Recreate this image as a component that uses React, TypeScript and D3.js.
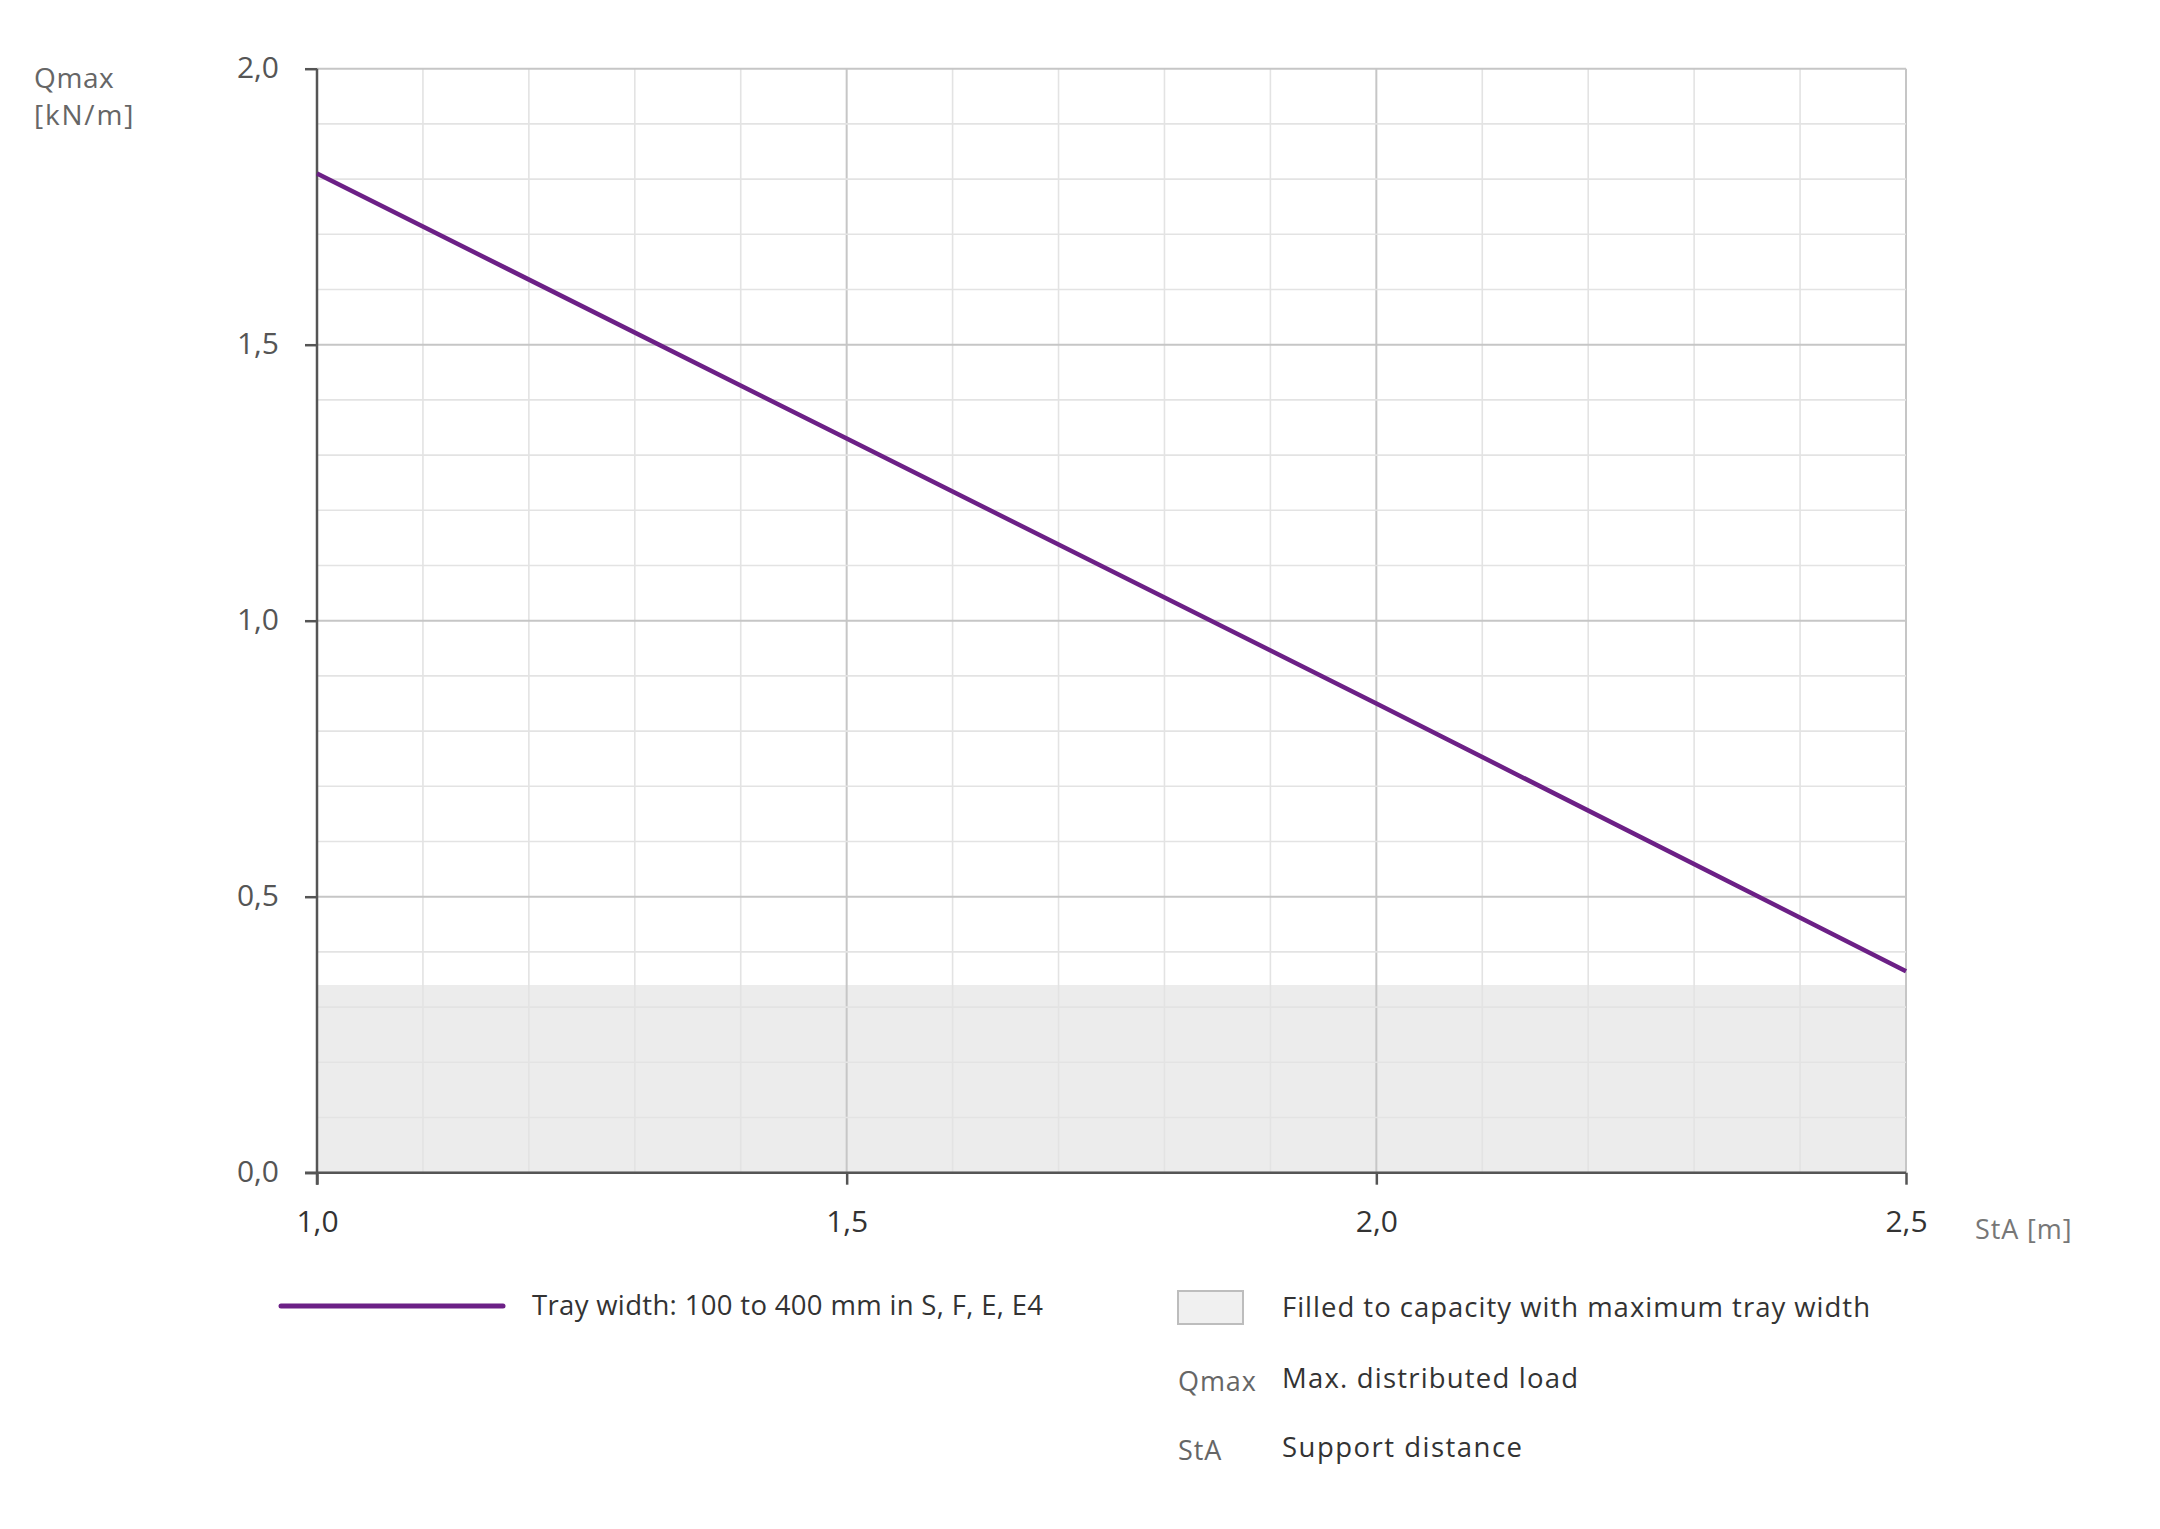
import { useRef, useEffect } from "react";
import * as d3 from "d3";

// Support distance StA [m] and max distributed load Qmax [kN/m]
const supportDistance = [1.0, 1.5, 2.0, 2.5];
const maxLoad = [1.81, 1.33, 0.85, 0.365];
const capacityLimit = 0.34;

const xTicks = [1.0, 1.5, 2.0, 2.5];
const yTicks = [0.0, 0.5, 1.0, 1.5, 2.0];
const xMinor = d3.range(1.0, 2.501, 0.1);
const yMinor = d3.range(0.0, 2.001, 0.1);

const seriesLabel = "Tray width: 100 to 400 mm in S, F, E, E4";
const fillLabel = "Filled to capacity with maximum tray width";
const glossary = [
  { key: "Qmax", text: "Max. distributed load" },
  { key: "StA", text: "Support distance" },
];

export default function App() {
  const svgRef = useRef<SVGSVGElement>(null);

  useEffect(() => {
    if (!svgRef.current) return;

    const width = 2160;
    const height = 1529;
    const margin = { top: 68.7, right: 254, bottom: 356.3, left: 317 };
    const font = "'Open Sans', Lato, sans-serif";
    const purple = "#6c2086";

    const svg = d3.select(svgRef.current);
    svg.selectAll("*").remove();
    svg.attr("width", width).attr("height", height).attr("viewBox", `0 0 ${width} ${height}`);

    const x = d3.scaleLinear().domain([1.0, 2.5]).range([margin.left, width - margin.right]);
    const y = d3.scaleLinear().domain([0, 2.0]).range([height - margin.bottom, margin.top]);
    const fmt = (d: number) => d3.format(".1f")(d).replace(".", ",");
    const isMajor = (v: number, list: number[]) => list.some((t) => Math.abs(t - v) < 1e-6);

    // Capacity band
    svg
      .append("rect")
      .attr("x", x(1.0))
      .attr("y", y(capacityLimit))
      .attr("width", x(2.5) - x(1.0))
      .attr("height", y(0) - y(capacityLimit))
      .attr("fill", "#ececec");

    // Minor + major grid
    const grid = svg.append("g");
    grid
      .selectAll("line.vx")
      .data(xMinor)
      .join("line")
      .attr("x1", (d) => x(d))
      .attr("x2", (d) => x(d))
      .attr("y1", y(0))
      .attr("y2", y(2.0))
      .attr("stroke", (d) => (isMajor(d, xTicks) ? "#c6c6c6" : "#e3e3e3"))
      .attr("stroke-width", (d) => (isMajor(d, xTicks) ? 2 : 1.6));

    grid
      .selectAll("line.hy")
      .data(yMinor)
      .join("line")
      .attr("x1", x(1.0))
      .attr("x2", x(2.5))
      .attr("y1", (d) => y(d))
      .attr("y2", (d) => y(d))
      .attr("stroke", (d) => (isMajor(d, yTicks) ? "#c6c6c6" : "#e3e3e3"))
      .attr("stroke-width", (d) => (isMajor(d, yTicks) ? 2 : 1.6));

    // Axes
    const axisColor = "#555555";
    const yAxis = d3.axisLeft(y).tickValues(yTicks).tickSize(12).tickPadding(26).tickFormat((d) => fmt(Number(d)));
    svg
      .append("g")
      .attr("transform", `translate(${margin.left}, 0)`)
      .call(yAxis)
      .call((g) => g.select(".domain").remove())
      .call((g) => g.selectAll(".tick line").attr("stroke", axisColor).attr("stroke-width", 2.5))
      .call((g) =>
        g
          .selectAll(".tick text")
          .attr("fill", "#555")
          .attr("font-family", font)
          .attr("font-size", 30)
          .attr("dy", "0.3em")
      );

    const xAxis = d3.axisBottom(x).tickValues(xTicks).tickSize(12).tickPadding(26).tickFormat((d) => fmt(Number(d)));
    svg
      .append("g")
      .attr("transform", `translate(0, ${y(0)})`)
      .call(xAxis)
      .call((g) => g.select(".domain").remove())
      .call((g) => g.selectAll(".tick line").attr("stroke", axisColor).attr("stroke-width", 2.5))
      .call((g) =>
        g
          .selectAll(".tick text")
          .attr("fill", "#333")
          .attr("font-family", font)
          .attr("font-size", 30)
      );

    // Axis lines
    svg
      .append("line")
      .attr("x1", x(1.0))
      .attr("x2", x(1.0))
      .attr("y1", y(2.0))
      .attr("y2", y(0) + 12)
      .attr("stroke", axisColor)
      .attr("stroke-width", 2.5);
    svg
      .append("line")
      .attr("x1", x(1.0) - 12)
      .attr("x2", x(2.5))
      .attr("y1", y(0))
      .attr("y2", y(0))
      .attr("stroke", axisColor)
      .attr("stroke-width", 2.5);

    // Axis titles
    const title = svg.append("g").attr("font-family", font).attr("fill", "#666").attr("font-size", 28);
    title.append("text").attr("x", 34).attr("y", 88).attr("letter-spacing", 0.6).text("Qmax");
    title.append("text").attr("x", 34).attr("y", 125).attr("letter-spacing", 1.8).text("[kN/m]");
    title
      .append("text")
      .attr("x", 1975)
      .attr("y", 1239)
      .attr("fill", "#777")
      .attr("font-size", 27)
      .attr("letter-spacing", 0.9)
      .text("StA [m]");

    // Load line
    const pts = supportDistance.map((s, i) => ({ s, q: maxLoad[i] }));
    const lineGen = d3
      .line<{ s: number; q: number }>()
      .x((d) => x(d.s))
      .y((d) => y(d.q));
    svg
      .append("path")
      .datum(pts)
      .attr("fill", "none")
      .attr("stroke", purple)
      .attr("stroke-width", 4.5)
      .attr("d", lineGen);

    // Legend
    const legend = svg.append("g").attr("font-family", font).attr("font-size", 27.5);
    legend
      .append("line")
      .attr("x1", 281)
      .attr("x2", 503)
      .attr("y1", 1306)
      .attr("y2", 1306)
      .attr("stroke", purple)
      .attr("stroke-width", 5)
      .attr("stroke-linecap", "round");
    legend
      .append("text")
      .attr("x", 532)
      .attr("y", 1315)
      .attr("fill", "#333")
      .attr("textLength", 511)
      .attr("lengthAdjust", "spacing")
      .text(seriesLabel);

    legend
      .append("rect")
      .attr("x", 1178)
      .attr("y", 1291)
      .attr("width", 65)
      .attr("height", 33)
      .attr("fill", "#f0f0f0")
      .attr("stroke", "#bdbdbd")
      .attr("stroke-width", 2);
    legend
      .append("text")
      .attr("x", 1282)
      .attr("y", 1317)
      .attr("fill", "#333")
      .attr("textLength", 588)
      .attr("lengthAdjust", "spacing")
      .text(fillLabel);

    const glossaryWidths = [296, 240];
    glossary.forEach((g, i) => {
      const yy = 1388 + i * 69;
      legend
        .append("text")
        .attr("x", 1178)
        .attr("y", yy + 3)
        .attr("fill", "#666")
        .attr("font-size", 27)
        .attr("letter-spacing", 0.9)
        .text(g.key);
      legend
        .append("text")
        .attr("x", 1282)
        .attr("y", yy)
        .attr("fill", "#333")
        .attr("textLength", glossaryWidths[i])
        .attr("lengthAdjust", "spacing")
        .text(g.text);
    });
  }, []);

  return (
    <div style={{ position: "absolute", top: 0, left: 0, background: "#fff" }}>
      <svg ref={svgRef} />
    </div>
  );
}
